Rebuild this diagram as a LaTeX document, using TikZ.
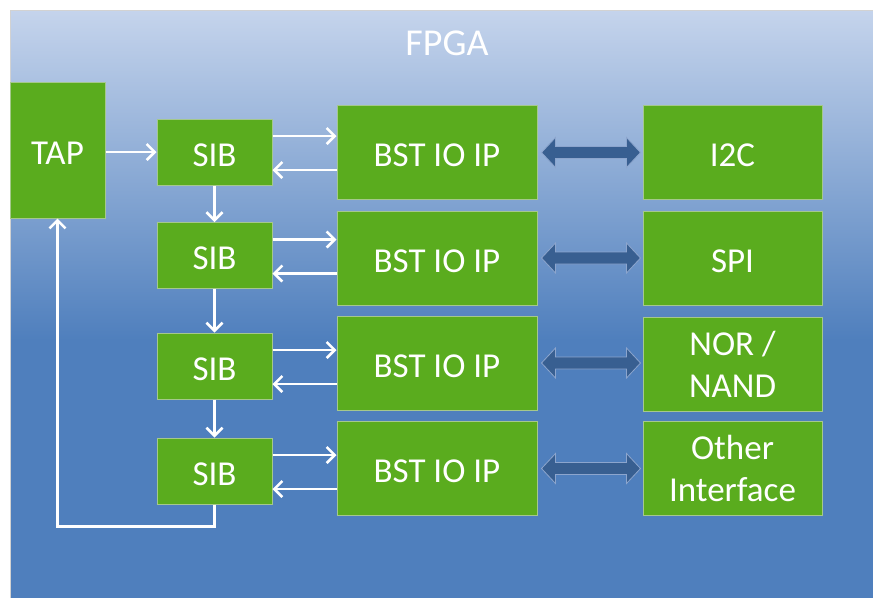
\documentclass[tikz,border=0pt]{standalone}
\usepackage{fontspec}
\setmainfont{Carlito}
\usetikzlibrary{arrows.meta,calc}
\definecolor{boxgreen}{RGB}{90,172,30}
\definecolor{boxedge}{RGB}{165,200,140}
\definecolor{bgtop}{RGB}{197,212,236}
\definecolor{bgbot}{RGB}{79,127,189}
\definecolor{dblfill}{RGB}{56,95,145}
\definecolor{dbledge}{RGB}{140,165,205}
\newcommand\lowlbl[1]{\raisebox{-3pt}[\height][0pt]{#1}}
\tikzset{
  gbox/.style={draw=boxedge, fill=boxgreen, line width=1pt, text=white, inner sep=0pt,
    align=center, font=\fontsize{35}{42}\selectfont},
  sibbox/.style={gbox, minimum width=115pt, minimum height=66pt},
  bstbox/.style={gbox, minimum width=200pt, minimum height=94pt},
  ifbox/.style={gbox, minimum width=179pt, minimum height=94pt},
  warrow/.style={draw=white, line width=2.6pt, -{Straight Barb[length=8pt,width=16pt]}},
  dblarrow/.style={fill=dblfill, draw=dbledge, line width=0.8pt, line join=miter},
}
\begin{document}
\begin{tikzpicture}[x=1pt,y=-1pt]
\useasboundingbox (0,0) rectangle (873,598);
\fill[white] (0,0) rectangle (873,598);
\shade[top color=bgtop, bottom color=bgbot] (10,10) rectangle (873,340);
\fill[bgbot] (10,339.5) rectangle (873,598);
\draw[gray!35, line width=1pt] (10,598) -- (10,10) -- (873,10);

\node[text=white, font=\fontsize{38}{44}\selectfont] (title) at (447,43) {FPGA};

\node[gbox, minimum width=95pt, minimum height=136pt] (tap) at (57.5,150) {\lowlbl{TAP}};

\node[sibbox] (sib1) at (214.5,152) {\lowlbl{SIB}};
\node[sibbox] (sib2) at (214.5,255.5) {\lowlbl{SIB}};
\node[sibbox] (sib3) at (214.5,366) {\lowlbl{SIB}};
\node[sibbox] (sib4) at (214.5,471) {\lowlbl{SIB}};

\node[bstbox] (bst1) at (437,152.5) {\lowlbl{BST IO IP}};
\node[bstbox] (bst2) at (437,258) {\lowlbl{BST IO IP}};
\node[bstbox] (bst3) at (437,363) {\lowlbl{BST IO IP}};
\node[bstbox] (bst4) at (437,468.5) {\lowlbl{BST IO IP}};

\node[ifbox] (if1) at (732.5,152.5) {\lowlbl{I2C}};
\node[ifbox] (if2) at (732.5,258) {\lowlbl{SPI}};
\node[ifbox] (if3) at (732.5,364) {NOR /\\NAND};
\node[ifbox] (if4) at (732.5,468.5) {Other\\Interface};

\draw[warrow] (tap.east |- sib1.west) -- (sib1.west);
\draw[warrow] (sib1.south) -- (sib2.north);
\draw[warrow] (sib2.south) -- (sib3.north);
\draw[warrow] (sib3.south) -- (sib4.north);
\draw[warrow] (sib4.south) -- ++(0,22) -| (tap.south);

\foreach \i in {1,...,4}{
  \draw[warrow] ([yshift=16pt]sib\i.east) -- ([yshift=16pt]sib\i.east -| bst\i.west);
  \draw[warrow] ([yshift=-18pt]sib\i.east -| bst\i.west) -- ([yshift=-18pt]sib\i.east);
  \path ([xshift=4pt]bst\i.east) coordinate (L\i);
  \path ([xshift=-2pt]if\i.west |- L\i) coordinate (R\i);
  \filldraw[dblarrow] (L\i) -- ($(L\i)+(14,-15)$) -- ($(L\i)+(14,-6)$) -- ($(R\i)+(-14,-6)$)
    -- ($(R\i)+(-14,-15)$) -- (R\i) -- ($(R\i)+(-14,15)$) -- ($(R\i)+(-14,6)$)
    -- ($(L\i)+(14,6)$) -- ($(L\i)+(14,15)$) -- cycle;
}
\end{tikzpicture}
\end{document}
